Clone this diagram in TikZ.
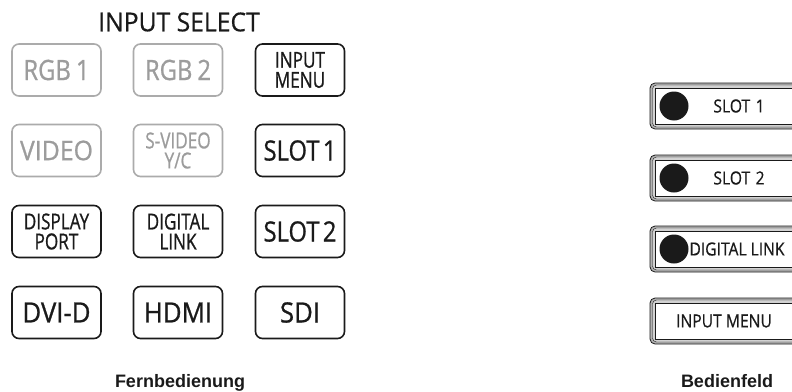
\documentclass[tikz,border=0pt]{standalone}
\usepackage{fontspec}
\setmainfont{Open Sans}
\newfontfamily\fontA[FakeStretch=0.92,FakeBold=0.8]{Open Sans}
\newfontfamily\fontB[FakeStretch=0.85,FakeBold=0.8]{Open Sans}
\newfontfamily\fontC[FakeStretch=0.78,FakeBold=0.8]{Open Sans}
\newfontfamily\fontT[FakeStretch=0.95,FakeBold=0.6]{Open Sans}
\newfontfamily\fontP[FakeStretch=0.87,FakeBold=0.6]{Open Sans}
\newfontfamily\labfont{Liberation Sans}
\definecolor{offgray}{HTML}{ABABAB}
\definecolor{offtext}{HTML}{9C9C9C}
\definecolor{ink}{HTML}{1A1A1A}
\tikzset{
  rbtn/.style={draw=ink, line width=1.6pt, rounded corners=7pt,
    minimum width=89pt, minimum height=52pt, inner sep=0pt, align=center,
    text=ink, font=\fontA\fontsize{28}{28}\selectfont},
  rbtnoff/.style={rbtn, draw=offgray, text=offtext},
  narrowtxt/.style={font=\fontB\fontsize{28}{28}\selectfont},
  twoline/.style={font=\fontC\fontsize{22}{20}\selectfont},
  ptext/.style={text=ink, inner sep=0pt, font=\fontP\fontsize{18}{18}\selectfont},
  lab/.style={text=ink, inner sep=0pt, anchor=base, font=\labfont\bfseries\fontsize{18}{18}\selectfont},
  pled/.style={circle, fill=ink, minimum size=29pt, inner sep=0pt},
}
\newcommand{\panelframe}[1]{%
  \draw[ink, line width=0.8pt, fill=gray!60, rounded corners=5pt]
    (650,#1-23) rectangle (810,#1+23);
  \draw[ink, line width=0.4pt, fill=gray!35, rounded corners=4pt]
    (652.5,#1-21) rectangle (810,#1+21);
  \draw[ink, line width=0.8pt, fill=white]
    (655.5,#1-18) rectangle (810,#1+18);
}
\begin{document}
\begin{tikzpicture}[x=1pt,y=-1pt]
\useasboundingbox (0,0) rectangle (792,391);
\clip (0,0) rectangle (792,391);
\node[text=ink, inner sep=0pt, font=\fontT\fontsize{26}{26}\selectfont] (title) at (179,22) {INPUT SELECT};
% remote
\node[rbtnoff,narrowtxt] (rgb1) at (56.5,70) {RGB\hspace{0.18em}1};
\node[rbtnoff,narrowtxt] (rgb2) at (178,70) {RGB\hspace{0.18em}2};
\node[rbtn,twoline] (imenu) at (300,70) {INPUT\\MENU};
\node[rbtnoff,font=\fontA\fontsize{27}{27}\selectfont] (video) at (56.5,150.5) {VIDEO};
\node[rbtnoff,twoline] (svideo) at (178,150.5) {S-VIDEO\\Y/C};
\node[rbtn,narrowtxt] (slot1) at (300,150.5) {SLOT\hspace{0.12em}1};
\node[rbtn,twoline] (dport) at (56.5,231.5) {DISPLAY\\PORT};
\node[rbtn,twoline] (dlink) at (178,231.5) {DIGITAL\\LINK};
\node[rbtn,narrowtxt] (slot2) at (300,231.5) {SLOT\hspace{0.12em}2};
\node[rbtn] (dvid) at (56.5,312.5) {DVI-D};
\node[rbtn] (hdmi) at (178,312.5) {HDMI};
\node[rbtn] (sdi) at (300,312.5) {SDI};
\node[lab] (fern) at (180,387) {Fernbedienung};
% panel
\panelframe{106}
\panelframe{178}
\panelframe{249}
\panelframe{321}
\node[pled] (led1) at (674,106) {};
\node[pled] (led2) at (674,178) {};
\node[pled] (led3) at (674,249) {};
\node[ptext] (pslot1) at (739,106) {SLOT\hspace{0.3em}1};
\node[ptext] (pslot2) at (739,178) {SLOT\hspace{0.3em}2};
\node[ptext] (pdlink) at (737,249) {DIGITAL LINK};
\node[ptext] (pimenu) at (724,321) {INPUT MENU};
\node[lab] (bed) at (727,387) {Bedienfeld};
\end{tikzpicture}
\end{document}
